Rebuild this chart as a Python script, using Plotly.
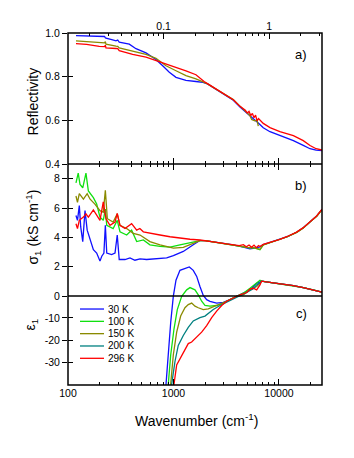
import numpy as np
import plotly.graph_objects as go

# ---------------- data ----------------
temps = ["30 K", "100 K", "150 K", "200 K", "296 K"]
colors = ["#1010ff", "#10e010", "#8a8a00", "#008080", "#ff0000"]

# a) reflectivity
refl_w_30 = [119, 150, 198, 222, 226, 229, 260, 285, 296, 300, 306, 381, 441, 549, 682, 790, 913,
             1056, 1313, 1633, 1900, 2100, 2400, 2960, 3690, 4270, 4940, 5510, 6370, 7100, 8220,
             10200, 13700, 17000, 19700, 22500, 25600]
refl_30 = [0.988, 0.986, 0.987, 0.984, 0.978, 0.976, 0.970, 0.964, 0.968, 0.962, 0.958, 0.949, 0.928,
           0.909, 0.879, 0.850, 0.820, 0.797, 0.783, 0.778, 0.774, 0.767, 0.750, 0.723, 0.692, 0.661,
           0.632, 0.614, 0.588, 0.566, 0.548, 0.530, 0.507, 0.485, 0.470, 0.464, 0.461]
refl_w_150 = [119, 150, 198, 222, 226, 229, 285, 296, 306, 410, 549, 682, 849, 1056, 1313, 1633, 1900,
              2100, 2400, 2960, 3690, 4270, 4940, 5300, 5510, 5900, 6200, 6370]
refl_150 = [0.964, 0.960, 0.957, 0.955, 0.960, 0.949, 0.940, 0.939, 0.932, 0.917, 0.902, 0.884, 0.850,
            0.827, 0.805, 0.790, 0.776, 0.767, 0.750, 0.724, 0.695, 0.665, 0.637, 0.622, 0.604, 0.598,
            0.600, 0.574]
refl_w_296 = [119, 150, 198, 222, 226, 229, 285, 296, 306, 410, 549, 682, 849, 1056, 1313, 1633, 1782,
              1950, 2100, 2400, 2960, 3690, 4270, 4600, 4800, 5000, 5200, 5400, 5600, 5800, 6000, 6200,
              6400, 7100, 8220, 10200, 13700, 17000, 19700, 22500, 25600]
refl_296 = [0.951, 0.948, 0.939, 0.938, 0.944, 0.932, 0.929, 0.928, 0.919, 0.902, 0.890, 0.875, 0.860,
            0.842, 0.827, 0.809, 0.792, 0.778, 0.768, 0.751, 0.724, 0.694, 0.664, 0.652, 0.646, 0.634,
            0.641, 0.622, 0.632, 0.612, 0.624, 0.598, 0.608, 0.586, 0.567, 0.548, 0.530, 0.507, 0.485,
            0.470, 0.464, 0.461]

# b) sigma_1 (kS/cm)
sig_w_30 = [119, 123, 128, 132, 138, 145, 152, 162, 174, 187, 201, 209, 219, 226, 233, 259, 279, 293,
            306, 347, 387, 431, 482, 556, 693, 862, 998, 1239, 1540, 1782, 2000, 2566, 3190, 3690,
            4590, 5310, 5710, 6610, 7100, 8220, 10200, 12000, 14700, 17000, 20000, 22760, 25600]
sig_30 = [5.49, 5.16, 6.16, 4.71, 3.71, 5.82, 4.49, 3.82, 3.16, 2.93, 2.38, 2.71, 2.93, 4.82, 2.93,
          2.82, 2.93, 4.16, 2.49, 2.49, 2.60, 2.44, 2.53, 2.49, 2.53, 2.60, 2.76, 3.04, 3.49, 3.78,
          3.78, 3.66, 3.55, 3.49, 3.33, 3.22, 3.25, 3.35, 3.50, 3.64, 3.85, 4.05, 4.35, 4.65, 5.10,
          5.45, 5.90]
sig_w_100 = [119, 125, 130, 138, 148, 156, 174, 187, 201, 216, 226, 233, 268, 293, 311, 360, 401, 448,
             518, 598, 745, 927, 1152, 1434, 1782, 2000, 2566, 3190, 3690, 4590, 5310, 5710, 6610,
             7100, 8220, 10200, 12000, 14700, 17000, 20000, 22760, 25600]
sig_100 = [7.71, 8.38, 7.60, 7.38, 8.38, 7.16, 6.71, 6.27, 5.38, 5.16, 5.93, 4.82, 4.60, 5.16, 4.38,
           4.16, 4.49, 3.71, 3.82, 3.49, 3.38, 3.33, 3.49, 3.64, 3.78, 3.78, 3.66, 3.55, 3.49, 3.36,
           3.28, 3.30, 3.16, 3.48, 3.63, 3.84, 4.04, 4.34, 4.64, 5.09, 5.44, 5.89]
sig_w_150 = [119, 123, 128, 140, 152, 162, 180, 201, 216, 226, 236, 268, 293, 311, 360, 416, 482, 598,
             745, 998, 1239, 1540, 1782, 2000, 2566, 3190, 3690, 4590, 5310, 5710, 6610, 7100, 8220,
             10200, 12000, 14700, 17000, 20000, 22760, 25600]
sig_150 = [6.82, 6.38, 6.98, 6.60, 6.98, 6.60, 6.27, 5.82, 5.71, 7.20, 5.27, 5.04, 5.60, 4.82, 4.60,
           4.27, 4.16, 3.71, 3.49, 3.27, 3.31, 3.60, 3.78, 3.78, 3.66, 3.55, 3.49, 3.36, 3.28, 3.30,
           3.18, 3.48, 3.63, 3.84, 4.04, 4.34, 4.64, 5.09, 5.44, 5.89]
sig_w_296 = [119, 123, 128, 140, 148, 156, 174, 187, 201, 216, 219, 229, 250, 279, 293, 311, 347, 401,
             448, 480, 518, 598, 745, 927, 1152, 1434, 1782, 2000, 2566, 3190, 3690, 4200, 4600, 4900,
             5200, 5500, 5800, 6100, 6400, 6610, 7100, 8220, 10200, 12000, 14700, 17000, 20000, 22760,
             25600]
sig_296 = [4.93, 4.60, 5.16, 5.38, 5.60, 5.38, 5.87, 5.49, 5.16, 6.42, 6.10, 5.27, 4.82, 5.04, 5.64,
           4.82, 4.60, 4.93, 4.49, 4.60, 4.38, 4.31, 4.16, 4.04, 3.93, 3.87, 3.82, 3.78, 3.66, 3.55,
           3.49, 3.44, 3.50, 3.36, 3.48, 3.32, 3.47, 3.30, 3.44, 3.38, 3.52, 3.65, 3.86, 4.06, 4.36,
           4.66, 5.11, 5.46, 5.92]

# c) epsilon_1
eps_tail_w = [6850, 8830, 10980, 13660, 17000, 21120, 25600]
eps_tail = [6.4, 5.6, 5.1, 4.4, 3.5, 2.5, 1.5]
eps_w_30 = [830, 849, 893, 941, 996, 1056, 1152, 1285, 1412, 1540, 1660, 1782, 1916, 2064, 2218,
            2566, 2965, 3432, 3970, 4590, 5310, 6145, 6610]
eps_30 = [-46, -39.7, -26.6, -12.1, -0.4, 6.8, 11.2, 11.9, 12.7, 11.2, 8.5, 4.0, 0.0, -1.9, -2.6,
          -3.4, -3.1, -1.9, -0.4, 1.0, 2.5, 5.4, 6.1]
eps_w_100 = [870, 893, 941, 1011, 1087, 1196, 1334, 1434, 1599, 1718, 1850, 1989, 2218, 2566, 2965,
             3432, 3970, 4590, 5310, 6145, 6610]
eps_100 = [-46, -39.7, -26.6, -15.0, -6.3, -0.4, 2.5, 3.5, 2.5, 0.3, -2.6, -4.5, -4.8, -4.5, -3.4,
           -1.9, -0.4, 1.0, 3.2, 5.4, 6.8]
eps_w_150 = [915, 941, 996, 1072, 1170, 1285, 1381, 1487, 1599, 1718, 1916, 2138, 2384, 2760, 3190,
             3970, 4590, 5310, 6145, 6610]
eps_150 = [-46, -39.7, -26.6, -16.4, -9.2, -5.5, -4.1, -3.4, -4.8, -5.5, -6.3, -6.0, -5.1, -4.1, -2.6,
           -0.4, 0.3, 2.5, 4.0, 5.4]
eps_w_200 = [935, 961, 1033, 1110, 1239, 1381, 1540, 1782, 1989, 2218, 2384, 2760, 3190, 3970, 4940,
             5710, 6145, 6610]
eps_200 = [-46, -39.7, -29.5, -22.3, -17.9, -14.3, -11.4, -9.9, -9.2, -7.4, -6.3, -4.5, -3.1, -0.7,
           1.3, 3.0, 4.7, 5.6]
eps_w_296 = [985, 1011, 1072, 1152, 1239, 1381, 1487, 1660, 1850, 2064, 2302, 2566, 2864, 3190, 3690,
             4270, 4940, 5310, 5710, 6145, 6610]
eps_296 = [-46, -39.7, -31.0, -28.1, -25.2, -21.5, -20.8, -18.6, -16.4, -13.5, -9.9, -7.0, -4.5, -2.6,
           -1.2, 0.3, 1.3, 2.8, 3.2, 2.5, 4.7]

refl = {"30 K": (refl_w_30, refl_30), "150 K": (refl_w_150, refl_150), "296 K": (refl_w_296, refl_296)}
sig = {"30 K": (sig_w_30, sig_30), "100 K": (sig_w_100, sig_100),
       "150 K": (sig_w_150, sig_150), "296 K": (sig_w_296, sig_296)}
eps = {"30 K": (eps_w_30, eps_30), "100 K": (eps_w_100, eps_100), "150 K": (eps_w_150, eps_150),
       "200 K": (eps_w_200, eps_200), "296 K": (eps_w_296, eps_296)}

CM_PER_EV = 8065.54
major = [100, 1000, 10000]
minor = [200, 300, 400, 500, 600, 700, 800, 900, 2000, 3000, 4000, 5000, 6000, 7000, 8000, 9000, 20000]
ev_major = [0.1, 1]
ev_minor = [0.02, 0.03, 0.04, 0.05, 0.06, 0.07, 0.08, 0.09, 0.2, 0.3, 0.4, 0.5, 0.6, 0.7, 0.8, 0.9, 2, 3]

# ---------------- figure ----------------
FONT = "Liberation Sans, Arial, sans-serif"
XR = [2, 4.408]
DIV = 0.6278   # border between a) and b)
ZERO = 0.2528  # eps = 0 / sigma = 0 line
R_RANGE = [0.4, 1.0]
S_RANGE = [0, 9]
E_RANGE = [-40, 58.7]

fig = go.Figure()
for name, col in zip(temps, colors):
    lw = 1.3
    if name in refl:
        w, v = refl[name]
        fig.add_trace(go.Scatter(x=w, y=v, mode="lines", line=dict(color=col, width=lw),
                                 xaxis="x", yaxis="y", showlegend=False))
    if name in sig:
        w, v = sig[name]
        fig.add_trace(go.Scatter(x=w, y=v, mode="lines", line=dict(color=col, width=lw),
                                 xaxis="x", yaxis="y2", showlegend=False))
    w, v = eps[name]
    fig.add_trace(go.Scatter(x=list(w) + eps_tail_w, y=list(v) + eps_tail, mode="lines",
                             line=dict(color=col, width=lw), xaxis="x", yaxis="y3", showlegend=False))

# empty traces so that the extra tick-only axes get drawn
for xa, ya in (("x2", "y"), ("x3", "y2"), ("x4", "y"), ("x", "y4"), ("x", "y5"), ("x", "y6")):
    fig.add_trace(go.Scatter(x=[], y=[], xaxis=xa, yaxis=ya, showlegend=False, hoverinfo="skip"))

tickfont = dict(family=FONT, size=10.5, color="black")
xcommon = dict(type="log", range=XR, showgrid=False, zeroline=False, tickvals=major,
               minor=dict(tickvals=minor, ticks="inside", ticklen=3, tickcolor="black", tickwidth=1),
               tickcolor="black", tickwidth=1)
ycommon = dict(showgrid=False, zeroline=False, tickcolor="black", tickwidth=1, tickfont=tickfont)

ev_off = np.log10(CM_PER_EV)
fig.update_layout(
    width=346, height=450,
    margin=dict(l=60, r=32, t=17, b=73),
    plot_bgcolor="rgba(0,0,0,0)", paper_bgcolor="white",
    xaxis=dict(**xcommon, domain=[0, 1], anchor="y3", ticks="inside", ticklen=6,
               ticktext=["100", "1000", "10000"], tickfont=tickfont),
    xaxis2=dict(**xcommon, anchor="y", overlaying="x", side="bottom", ticks="inside", ticklen=6,
                showticklabels=False),
    xaxis3=dict(**xcommon, anchor="y2", overlaying="x", side="top", ticks="inside", ticklen=6,
                showticklabels=False),
    xaxis4=dict(type="log", range=[XR[0] - ev_off, XR[1] - ev_off], anchor="y", overlaying="x",
                side="top", showgrid=False, zeroline=False, tickvals=ev_major, ticktext=["0.1", "1"],
                ticks="inside", ticklen=6, tickcolor="black", tickfont=tickfont,
                minor=dict(tickvals=ev_minor, ticks="inside", ticklen=3, tickcolor="black")),
    yaxis=dict(**ycommon, domain=[DIV, 1], range=R_RANGE, tickvals=[0.4, 0.6, 0.8, 1.0],
               ticktext=["0.4", "0.6", "0.8", "1.0"], ticks="outside", ticklen=5, anchor="x"),
    yaxis2=dict(**ycommon, domain=[ZERO, DIV], range=S_RANGE, tickvals=[0, 2, 4, 6, 8],
                ticks="outside", ticklen=5, anchor="x"),
    yaxis3=dict(**ycommon, domain=[0, DIV], range=E_RANGE, tickvals=[-30, -20, -10],
                ticktext=["-30", "-20", "-10"], ticks="outside", ticklen=5, anchor="x"),
    yaxis4=dict(**ycommon, overlaying="y", range=R_RANGE, tickvals=[0.6, 0.8], ticks="inside",
                ticklen=5, showticklabels=False, anchor="x"),
    yaxis5=dict(**ycommon, overlaying="y2", range=S_RANGE, tickvals=[2, 4, 6, 8], ticks="inside",
                ticklen=5, showticklabels=False, anchor="x"),
    yaxis6=dict(**ycommon, overlaying="y3", range=E_RANGE, tickvals=[-30, -20, -10], ticks="inside",
                ticklen=5, showticklabels=False, anchor="x"),
)

# frame and dividers
fig.add_shape(type="rect", xref="paper", yref="paper", x0=0, x1=1, y0=0, y1=1,
              line=dict(color="black", width=1.5))
for yy in (DIV, ZERO):
    fig.add_shape(type="line", xref="paper", yref="paper", x0=0, x1=1, y0=yy, y1=yy,
                  line=dict(color="black", width=1.5))

# legend drawn by hand (tight rows as in the original)
leg_y0 = (385 - 307.3) / 360
leg_dy = 12.6 / 360
for i, (name, col) in enumerate(zip(temps, colors)):
    yy = leg_y0 - i * leg_dy
    fig.add_shape(type="line", xref="paper", yref="paper", x0=12 / 254, x1=36 / 254, y0=yy, y1=yy,
                  line=dict(color=col, width=1.3))
    fig.add_annotation(text=name, xref="paper", yref="paper", x=38 / 254, y=yy, xanchor="left",
                       yanchor="middle", showarrow=False, font=dict(family=FONT, size=10, color="black"))

# panel labels
for lab, py in (("a)", 47), ("b)", 181), ("c)", 312)):
    fig.add_annotation(text=lab, xref="paper", yref="paper", x=(301 - 68) / 254, y=(385 - py) / 360,
                       xanchor="center", yanchor="middle", showarrow=False,
                       font=dict(family=FONT, size=13, color="black"))

# axis titles
titlefont = dict(family=FONT, size=14, color="black")
titles = [("Reflectivity", 33, 95, -90),
          ("σ<sub>1</sub> (kS cm<sup>-1</sup>)", 33, 224, -90),
          ("ε<sub>1</sub>", 31, 323, -90),
          ("Wavenumber (cm<sup>-1</sup>)", 196, 421, 0)]
for txt, px, py, ang in titles:
    fig.add_annotation(text=txt, xref="paper", yref="paper", x=(px - 68) / 254, y=(385 - py) / 360,
                       xanchor="center", yanchor="middle", textangle=ang, showarrow=False,
                       font=titlefont)

fig.write_html("out.html")
